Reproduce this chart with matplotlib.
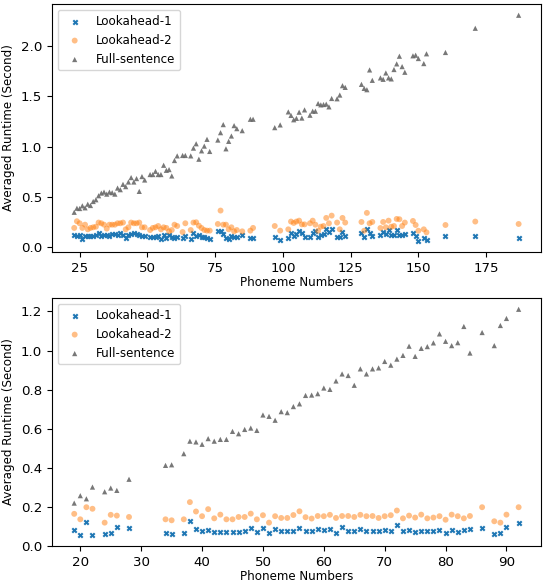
import matplotlib
matplotlib.use("Agg")
import matplotlib.pyplot as plt

# ---------- data: top panel ----------
x_top = [23, 24, 25, 26, 27, 28, 29, 30, 31, 32, 33, 34, 35, 36, 37, 38, 39, 40,
         41, 42, 43, 44, 45, 46, 47, 48, 49, 51, 52, 53, 54, 55, 56, 57, 58, 59,
         60, 61, 63, 64, 66, 67, 68, 69, 70, 71, 72, 73, 76, 77, 78, 79, 80, 81,
         82, 83, 85, 88, 89, 97, 99, 102, 103, 104, 105, 106, 107, 108, 110, 111,
         112, 113, 114, 115, 116, 117, 118, 120, 121, 122, 123, 129, 130, 131,
         132, 133, 136, 137, 138, 139, 140, 141, 142, 143, 144, 145, 148, 149,
         150, 152, 153, 160, 171, 187]

la1_top = [0.127, 0.113, 0.127, 0.087, 0.113, 0.113, 0.113, 0.113, 0.120, 0.147,
           0.113, 0.120, 0.120, 0.113, 0.133, 0.133, 0.120, 0.140, 0.120, 0.094,
           0.120, 0.133, 0.147, 0.133, 0.127, 0.113, 0.113, 0.100, 0.100, 0.107,
           0.113, 0.087, 0.120, 0.094, 0.120, 0.100, 0.094, 0.100, 0.094, 0.113,
           0.080, 0.140, 0.113, 0.120, 0.107, 0.100, 0.094, 0.087, 0.167, 0.160,
           0.133, 0.094, 0.087, 0.113, 0.107, 0.100, 0.127, 0.094, 0.094, 0.100,
           0.073, 0.094, 0.147, 0.113, 0.133, 0.160, 0.147, 0.100, 0.107, 0.140,
           0.160, 0.100, 0.127, 0.133, 0.187, 0.150, 0.180, 0.107, 0.107, 0.153,
           0.117, 0.140, 0.107, 0.180, 0.147, 0.113, 0.120, 0.153, 0.133, 0.173,
           0.120, 0.120, 0.173, 0.120, 0.120, 0.133, 0.140, 0.113, 0.067, 0.094,
           0.073, 0.110, 0.117, 0.097]

la2_top = [0.194, 0.260, 0.240, 0.194, 0.226, 0.180, 0.194, 0.200, 0.206, 0.247,
           0.240, 0.226, 0.187, 0.226, 0.226, 0.226, 0.240, 0.240, 0.247, 0.180,
           0.200, 0.247, 0.240, 0.240, 0.247, 0.200, 0.200, 0.173, 0.194, 0.200,
           0.213, 0.180, 0.200, 0.194, 0.160, 0.173, 0.226, 0.213, 0.153, 0.240,
           0.173, 0.247, 0.250, 0.216, 0.193, 0.173, 0.167, 0.167, 0.233, 0.366,
           0.226, 0.226, 0.180, 0.200, 0.160, 0.173, 0.160, 0.167, 0.194, 0.213,
           0.167, 0.180, 0.257, 0.243, 0.257, 0.266, 0.229, 0.229, 0.240, 0.266,
           0.226, 0.166, 0.206, 0.213, 0.293, 0.240, 0.316, 0.247, 0.180, 0.293,
           0.247, 0.253, 0.166, 0.343, 0.240, 0.253, 0.193, 0.253, 0.200, 0.266,
           0.206, 0.213, 0.283, 0.280, 0.213, 0.247, 0.263, 0.223, 0.166, 0.180,
           0.150, 0.223, 0.257, 0.233]

full_top = [0.349, 0.389, 0.386, 0.413, 0.393, 0.429, 0.416, 0.456, 0.473, 0.513,
            0.539, 0.549, 0.529, 0.549, 0.543, 0.529, 0.589, 0.573, 0.626, 0.603,
            0.649, 0.693, 0.649, 0.683, 0.556, 0.703, 0.669, 0.723, 0.723, 0.755,
            0.723, 0.723, 0.815, 0.765, 0.772, 0.709, 0.862, 0.908, 0.912, 0.912,
            0.908, 0.985, 1.028, 0.875, 0.958, 1.005, 1.072, 0.952, 1.065, 1.138,
            1.218, 0.978, 1.052, 1.105, 1.208, 1.178, 1.158, 1.271, 1.271, 1.188,
            1.215, 1.344, 1.309, 1.266, 1.280, 1.341, 1.283, 1.364, 1.311, 1.351,
            1.351, 1.427, 1.414, 1.417, 1.421, 1.394, 1.477, 1.474, 1.511, 1.604,
            1.587, 1.617, 1.577, 1.564, 1.760, 1.657, 1.681, 1.667, 1.730, 1.681,
            1.671, 1.764, 1.820, 1.896, 1.793, 1.737, 1.900, 1.906, 1.873, 1.823,
            1.920, 1.933, 2.173, 2.302]

# ---------- data: bottom panel ----------
x_bot = [19, 20, 21, 22, 24, 25, 26, 28, 34, 35, 37, 38, 39, 40, 41, 42, 43, 44,
         45, 46, 47, 48, 49, 50, 51, 52, 53, 54, 55, 56, 57, 58, 59, 60, 61, 62,
         63, 64, 65, 66, 67, 68, 69, 70, 71, 72, 73, 74, 75, 76, 77, 78, 79, 80,
         81, 82, 83, 84, 86, 88, 89, 90, 92]

la1_bot = [0.081, 0.057, 0.120, 0.057, 0.059, 0.064, 0.097, 0.090, 0.064, 0.059,
           0.064, 0.127, 0.086, 0.074, 0.081, 0.072, 0.072, 0.072, 0.072, 0.072,
           0.078, 0.090, 0.071, 0.091, 0.064, 0.086, 0.074, 0.078, 0.076, 0.091,
           0.078, 0.076, 0.086, 0.081, 0.084, 0.066, 0.097, 0.076, 0.074, 0.088,
           0.076, 0.078, 0.076, 0.083, 0.076, 0.107, 0.076, 0.079, 0.069, 0.076,
           0.076, 0.076, 0.081, 0.064, 0.081, 0.071, 0.079, 0.088, 0.090, 0.062,
           0.064, 0.095, 0.115]

la2_bot = [0.164, 0.136, 0.198, 0.190, 0.119, 0.159, 0.155, 0.148, 0.136, 0.131,
           0.136, 0.224, 0.176, 0.152, 0.188, 0.141, 0.160, 0.136, 0.136, 0.148,
           0.148, 0.165, 0.136, 0.157, 0.119, 0.152, 0.143, 0.143, 0.158, 0.177,
           0.147, 0.140, 0.153, 0.152, 0.159, 0.143, 0.153, 0.153, 0.148, 0.159,
           0.152, 0.153, 0.143, 0.152, 0.157, 0.181, 0.141, 0.155, 0.145, 0.160,
           0.141, 0.145, 0.152, 0.134, 0.160, 0.152, 0.141, 0.153, 0.198, 0.126,
           0.119, 0.160, 0.198]

full_bot = [0.219, 0.257, 0.241, 0.301, 0.277, 0.296, 0.284, 0.341, 0.412, 0.415,
            0.472, 0.536, 0.532, 0.520, 0.549, 0.536, 0.545, 0.545, 0.586, 0.574,
            0.596, 0.603, 0.591, 0.670, 0.663, 0.643, 0.687, 0.682, 0.713, 0.727,
            0.770, 0.772, 0.779, 0.808, 0.801, 0.844, 0.880, 0.872, 0.822, 0.906,
            0.880, 0.906, 0.911, 0.944, 0.925, 0.956, 0.975, 1.022, 0.970, 1.011,
            1.020, 1.039, 1.085, 1.047, 1.025, 1.040, 1.123, 0.987, 1.092, 1.025,
            1.128, 1.164, 1.211]

LABELS = ["Lookahead-1", "Lookahead-2", "Full-sentence"]


def draw_panel(ax, x, la1, la2, full):
    ax.scatter(x, la1, marker="x", s=10, linewidths=1.5, color="tab:blue", label=LABELS[0])
    ax.scatter(x, la2, marker="o", s=18, color="tab:orange", alpha=0.5,
               edgecolors="none", label=LABELS[1])
    ax.scatter(x, full, marker="^", s=14, color="dimgray", alpha=0.9,
               edgecolors="none", label=LABELS[2])
    ax.set_xlabel("Phoneme Numbers", fontsize=8.6, labelpad=1)
    ax.set_ylabel("Averaged Runtime (Second)", fontsize=8.6)
    ax.tick_params(labelsize=9.6)
    ax.legend(loc="upper left", fontsize=8.6)


fig = plt.figure(figsize=(5.45, 5.87), dpi=100)
ax1 = fig.add_axes([0.0954, 0.5707, 0.897, 0.4225])
ax2 = fig.add_axes([0.0954, 0.0698, 0.897, 0.4225])

draw_panel(ax1, x_top, la1_top, la2_top, full_top)
draw_panel(ax2, x_bot, la1_bot, la2_bot, full_bot)

fig.savefig("out.png", dpi=100)
